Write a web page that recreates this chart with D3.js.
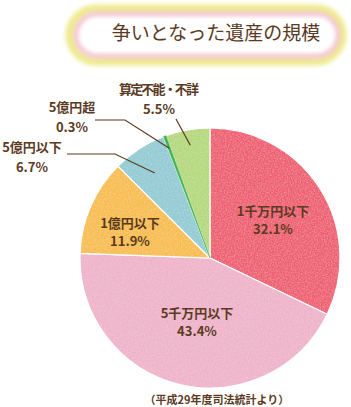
<!DOCTYPE html>
<html>
<head>
<meta charset="utf-8">
<script src="https://cdn.jsdelivr.net/npm/d3@7"></script>
<style>
  body { margin: 0; background: #fff; }
  text { font-family: "Noto Sans CJK JP", "Noto Sans", sans-serif; fill: #5b3b1f; }
</style>
</head>
<body>
<svg id="mainsvg" width="351" height="407"></svg>
<script>
const categories = ['1千万円以下', '5千万円以下', '1億円以下', '5億円以下', '5億円超', '算定不能・不詳'];
const values = [32.1, 43.4, 11.9, 6.7, 0.3, 5.5];
const colors = ['#ee5d70', '#efb3c9', '#f8bd48', '#92cbd4', '#3fb34c', '#b5d87c'];
const title = '争いとなった遺産の規模';
const source = '（平成29年度司法統計より）';

const svg = d3.select('#mainsvg');
const width = +svg.attr('width');
const height = +svg.attr('height');
const cx = 210, cy = 258, r = 130;

const defs = svg.append('defs');
const blur = defs.append('filter').attr('id', 'blur')
  .attr('x', '-20%').attr('y', '-40%').attr('width', '140%').attr('height', '180%');
blur.append('feGaussianBlur').attr('stdDeviation', 2.2);

// paper-ish texture for the slices
const paper = defs.append('filter').attr('id', 'paper');
paper.append('feTurbulence').attr('type', 'fractalNoise').attr('baseFrequency', 0.7)
  .attr('numOctaves', 2).attr('seed', 3).attr('result', 'n');
paper.append('feColorMatrix').attr('in', 'n').attr('type', 'matrix')
  .attr('values', '0 0 0 0 1  0 0 0 0 1  0 0 0 0 1  0.35 0 0 0 -0.12').attr('result', 'w');
paper.append('feComposite').attr('in', 'w').attr('in2', 'SourceGraphic').attr('operator', 'in').attr('result', 'wc');
const merge = paper.append('feMerge');
merge.append('feMergeNode').attr('in', 'SourceGraphic');
merge.append('feMergeNode').attr('in', 'wc');

// title badge
const tg = svg.append('g');
tg.append('rect').attr('x', 70).attr('y', 9).attr('width', 272).attr('height', 52).attr('rx', 26)
  .attr('fill', 'none').attr('stroke', '#eeeb8e').attr('stroke-width', 9).attr('filter', 'url(#blur)');
tg.append('rect').attr('x', 76).attr('y', 14).attr('width', 262).attr('height', 42).attr('rx', 21)
  .attr('fill', '#fff').attr('stroke', '#f3c3cf').attr('stroke-width', 5).attr('filter', 'url(#blur)');
tg.append('rect').attr('x', 82).attr('y', 19).attr('width', 250).attr('height', 32).attr('rx', 16)
  .attr('fill', '#fff');
tg.append('text').attr('x', 216).attr('y', 40).attr('text-anchor', 'middle')
  .attr('font-size', 19).text(title);

const data = categories.map((c, i) => ({ name: c, value: values[i], color: colors[i] }));
const pie = d3.pie().value(d => d.value).sort(null);
const arcs = pie(data);
const arc = d3.arc().innerRadius(0).outerRadius(r);

const g = svg.append('g').attr('transform', `translate(${cx},${cy})`);
g.selectAll('.slice')
  .data(arcs)
  .join('path')
  .attr('class', 'slice')
  .attr('d', arc)
  .attr('fill', d => d.data.color)
  .attr('stroke', '#fff')
  .attr('stroke-width', 1.2)
  .attr('filter', 'url(#paper)');

// the tiny slice would vanish under the white borders, so paint it again on top
g.selectAll('.thin')
  .data(arcs.filter(d => d.data.value < 1))
  .join('path')
  .attr('class', 'thin')
  .attr('d', arc)
  .attr('fill', d => d.data.color)
  .attr('stroke', d => d.data.color)
  .attr('stroke-width', 0.6);

// labels inside the big slices
const insidePos = { 0: [273, 211], 1: [197, 313], 2: [130, 223] };
const lg = svg.append('g').attr('font-weight', 'bold').attr('font-size', 13).attr('text-anchor', 'middle');
Object.keys(insidePos).forEach(k => {
  const d = arcs[k];
  const [x, y] = insidePos[k];
  lg.append('text').attr('x', x).attr('y', y + 5).text(d.data.name);
  lg.append('text').attr('x', x).attr('y', y + 23).text(d.data.value + '%');
});

// outside labels with leader lines
const outside = [
  { i: 3, pos: [32, 147], line: [[67, 154], [115, 154]], rr: 0.78 },
  { i: 4, pos: [72, 107], line: [[95, 120], [125, 120]], rr: 0.9 },
  { i: 5, pos: [159, 89], line: [[176, 119]], rr: 0.88, len: 80 }
];
outside.forEach(o => {
  const d = arcs[o.i];
  const [x, y] = o.pos;
  const t = lg.append('text').attr('x', x).attr('y', y + 5).text(d.data.name);
  if (o.len) t.attr('textLength', o.len).attr('lengthAdjust', 'spacing');
  lg.append('text').attr('x', x).attr('y', y + 25).text(d.data.value.toFixed(1) + '%');
  const ang = (d.startAngle + d.endAngle) / 2;
  const end = [cx + Math.sin(ang) * r * o.rr, cy - Math.cos(ang) * r * o.rr];
  svg.append('path')
    .attr('d', d3.line()(o.line.concat([end])))
    .attr('fill', 'none').attr('stroke', '#5b3b1f').attr('stroke-width', 1.2);
});

svg.append('text').attr('x', 217).attr('y', 404).attr('text-anchor', 'middle')
  .attr('font-size', 11).attr('font-weight', 'bold').text(source);
</script>
</body>
</html>
